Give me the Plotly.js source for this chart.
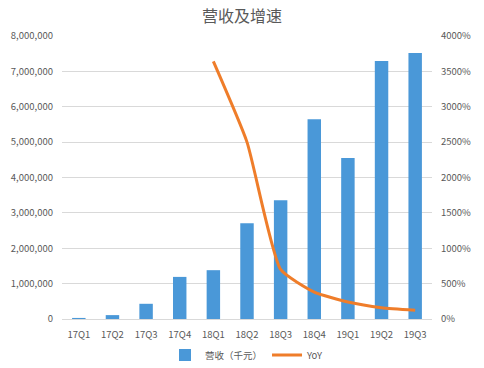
<!DOCTYPE html>
<html><head><meta charset="utf-8">
<script src="https://cdn.plot.ly/plotly-3.0.1.min.js"></script>
<style>html,body{margin:0;padding:0;background:#fff}#chart{width:484px;height:368px}</style>
</head><body><div id="chart"></div>
<script>
const quarters = ["17Q1","17Q2","17Q3","17Q4","18Q1","18Q2","18Q3","18Q4","19Q1","19Q2","19Q3"];
const revenue = [30000,110000,430000,1190000,1380000,2710000,3360000,5650000,4550000,7290000,7520000];
const yoyQuarters = ["18Q1","18Q2","18Q3","18Q4","19Q1","19Q2","19Q3"];
const yoy = [36.4,25.0,7.0,3.8,2.4,1.6,1.25];
const leftTicks = [0,1000000,2000000,3000000,4000000,5000000,6000000,7000000,8000000];
const rightTicks = [0,5,10,15,20,25,30,35,40];

const font = "'Noto Sans CJK SC', 'Liberation Sans', sans-serif";
const traces = [
  {type:'bar', x:quarters, y:revenue, name:'营收（千元）', marker:{color:'#4a98d8'}},
  {type:'scatter', mode:'lines', x:yoyQuarters, y:yoy, name:'YoY', yaxis:'y2',
   line:{color:'#ef7d2a', width:3, shape:'spline', smoothing:0.5}}
];
const layout = {
  width:484, height:368,
  margin:{l:62, r:52, t:36, b:49, autoexpand:false},
  paper_bgcolor:'#fff', plot_bgcolor:'#fff',
  font:{family:font, size:9.5, color:'#595959'},
  title:{text:'营收及增速', font:{family:font, size:16, color:'#595959'}, x:0.5, xanchor:'center', y:0.955, yanchor:'middle'},
  bargap:0.6,
  showlegend:true,
  legend:{orientation:'h', x:0.5, xanchor:'center', yref:'container', y:0.035, yanchor:'middle', font:{size:9.5, color:'#595959'}},
  xaxis:{type:'category', categoryarray:quarters, categoryorder:'array', showgrid:false, showline:true, linecolor:'#d9d9d9', ticks:'', tickfont:{size:9.5}, ticklabelstandoff:7},
  yaxis:{range:[0,8000000], tickvals:leftTicks, ticktext:leftTicks.map(v=>v.toLocaleString('en-US')), gridcolor:'#d9d9d9', zeroline:false, showline:false, ticks:'', tickfont:{size:9.5}, ticklabelstandoff:8},
  yaxis2:{overlaying:'y', side:'right', range:[0,40], tickvals:rightTicks, ticktext:rightTicks.map(v=>(v*100)+'%'), showgrid:false, zeroline:false, showline:false, ticks:'', tickfont:{size:9.5}, ticklabelstandoff:8}
};
Plotly.newPlot('chart', traces, layout, {displayModeBar:false, staticPlot:true});
</script></body></html>
